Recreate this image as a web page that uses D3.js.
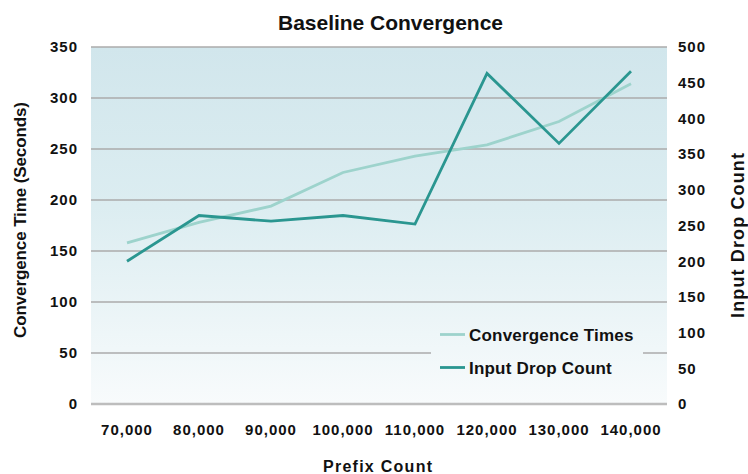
<!DOCTYPE html>
<html>
<head>
<meta charset="utf-8">
<script src="https://cdn.jsdelivr.net/npm/d3@7"></script>
<style>
  body { margin: 0; background: #fff; }
  text { font-family: "Liberation Sans", Arial, sans-serif; font-weight: bold; fill: #111; }
</style>
</head>
<body>
<svg id="chart" width="748" height="474"></svg>
<script>
// Prefix counts on the x axis
const prefixCounts = [70000, 80000, 90000, 100000, 110000, 120000, 130000, 140000];
// Convergence time in seconds (left axis)
const convergenceTimes = [158, 178, 194, 227, 243, 254, 277, 314];
// Input drop count (right axis)
const inputDrops = [200, 264, 256, 264, 252, 463, 365, 466];
const leftTicks = [0, 50, 100, 150, 200, 250, 300, 350];
const rightTicks = [0, 50, 100, 150, 200, 250, 300, 350, 400, 450, 500];

const svg = d3.select("#chart");
const m = { left: 91, right: 667, top: 47, bottom: 404 };

const x = d3.scaleBand().domain(prefixCounts).range([m.left, m.right]);
const yL = d3.scaleLinear().domain([0, 350]).range([m.bottom, m.top]);
const yR = d3.scaleLinear().domain([0, 500]).range([m.bottom, m.top]);

// vertical gradient shared by plot area and legend box
const defs = svg.append("defs");
const grad = defs.append("linearGradient").attr("id", "bg")
  .attr("gradientUnits", "userSpaceOnUse")
  .attr("x1", 0).attr("y1", m.top).attr("x2", 0).attr("y2", m.bottom);
grad.append("stop").attr("offset", "0%").attr("stop-color", "#d1e6ec");
grad.append("stop").attr("offset", "45%").attr("stop-color", "#dcedf1");
grad.append("stop").attr("offset", "100%").attr("stop-color", "#f8fbfc");

svg.append("rect")
  .attr("x", m.left).attr("y", m.top)
  .attr("width", m.right - m.left).attr("height", m.bottom - m.top)
  .attr("fill", "url(#bg)");

// horizontal gridlines at left-axis ticks
svg.append("g").selectAll("line").data(leftTicks).join("line")
  .attr("x1", m.left).attr("x2", m.right)
  .attr("y1", d => yL(d)).attr("y2", d => yL(d))
  .attr("stroke", d => d === 0 ? "#bdbdbd" : "#ababab")
  .attr("stroke-width", d => d === 0 ? 2.5 : 1.5);

function styleTicks(g) {
  g.select(".domain").remove();
  g.selectAll("text")
    .attr("font-size", 15).attr("letter-spacing", "1px").attr("fill", "#111")
    .style("font-family", "Liberation Sans, Arial, sans-serif").style("font-weight", "bold");
}

// left axis
svg.append("g").attr("transform", `translate(${m.left},0)`)
  .call(d3.axisLeft(yL).tickValues(leftTicks).tickSize(0).tickPadding(13))
  .call(styleTicks);

// right axis
svg.append("g").attr("transform", `translate(${m.right},0)`)
  .call(d3.axisRight(yR).tickValues(rightTicks).tickSize(0).tickPadding(11))
  .call(styleTicks);

// bottom axis
svg.append("g").attr("transform", `translate(0,${m.bottom})`)
  .call(d3.axisBottom(x).tickSize(0).tickPadding(20).tickFormat(d3.format(",")))
  .call(styleTicks);

// series lines
const cx = d => x(d) + x.bandwidth() / 2;
const lineL = d3.line().x((d, i) => cx(prefixCounts[i])).y(d => yL(d));
const lineR = d3.line().x((d, i) => cx(prefixCounts[i])).y(d => yR(d));

svg.append("path").datum(convergenceTimes).attr("d", lineL)
  .attr("fill", "none").attr("stroke", "#9dd3cc").attr("stroke-width", 2.8);
svg.append("path").datum(inputDrops).attr("d", lineR)
  .attr("fill", "none").attr("stroke", "#2a9690").attr("stroke-width", 2.8);

// legend
const lg = svg.append("g");
lg.append("rect").attr("x", 431).attr("y", 318).attr("width", 212).attr("height", 68).attr("fill", "url(#bg)");
const legendItems = [
  { label: "Convergence Times", color: "#9dd3cc", y: 334.5 },
  { label: "Input Drop Count", color: "#2a9690", y: 367.5 }
];
legendItems.forEach(it => {
  lg.append("line").attr("x1", 440).attr("x2", 465).attr("y1", it.y).attr("y2", it.y)
    .attr("stroke", it.color).attr("stroke-width", 2.8);
  lg.append("text").attr("x", 469).attr("y", it.y + 6)
    .attr("font-size", 17).attr("letter-spacing", "0.2px").text(it.label);
});

// titles
svg.append("text").attr("x", 390.5).attr("y", 30).attr("text-anchor", "middle")
  .attr("font-size", 21).attr("textLength", 225).attr("lengthAdjust", "spacing")
  .text("Baseline Convergence");
svg.append("text").attr("x", 377.5).attr("y", 471.5).attr("text-anchor", "middle")
  .attr("font-size", 16).attr("textLength", 109).attr("lengthAdjust", "spacing")
  .text("Prefix Count");
svg.append("text").attr("transform", "translate(26,220) rotate(-90)").attr("text-anchor", "middle")
  .attr("font-size", 17).attr("textLength", 236).attr("lengthAdjust", "spacing")
  .text("Convergence Time (Seconds)");
svg.append("text").attr("transform", "translate(744,235.5) rotate(-90)").attr("text-anchor", "middle")
  .attr("font-size", 18).attr("textLength", 165).attr("lengthAdjust", "spacing")
  .text("Input Drop Count");
</script>
</body>
</html>
